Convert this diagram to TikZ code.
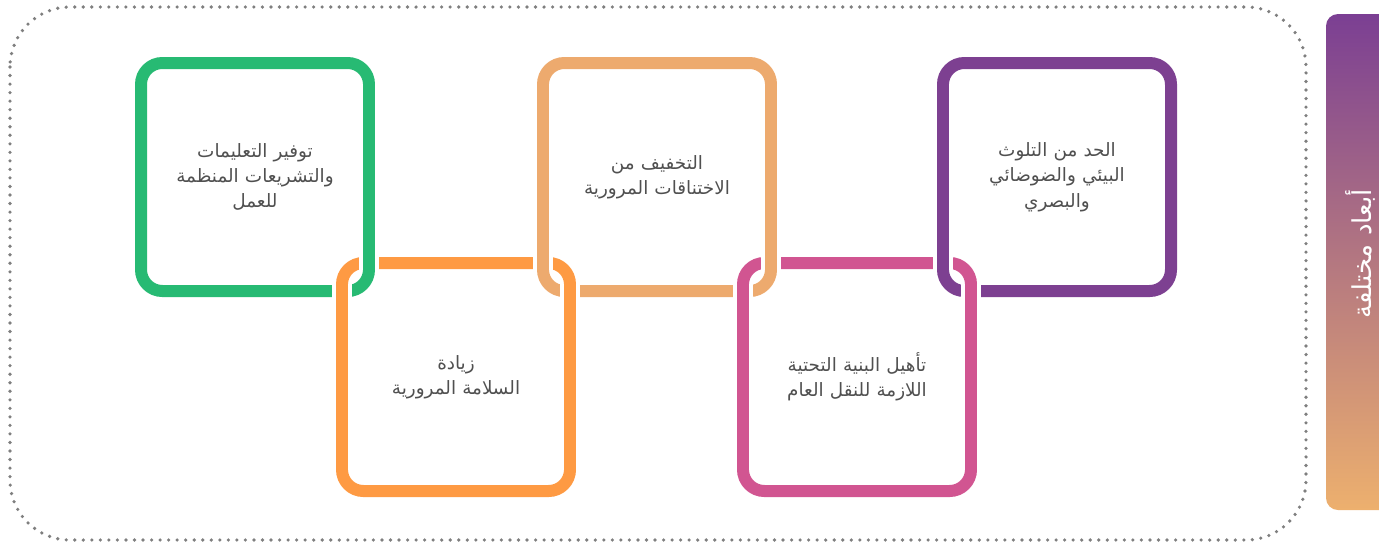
\documentclass[tikz,border=0pt]{standalone}
\usepackage{fontspec}
\usepackage{xcolor}
\usepackage{tikz}
\usetikzlibrary{calc}
\newfontfamily\arabicfont[Script=Arabic]{DejaVu Sans}
\TeXXeTstate=1

\definecolor{col1}{HTML}{27BA73}
\definecolor{col2}{HTML}{FE9A43}
\definecolor{col3}{HTML}{EDAA6E}
\definecolor{col4}{HTML}{D15591}
\definecolor{col5}{HTML}{7D4091}
\definecolor{bartop}{HTML}{7B3F93}
\definecolor{barmid}{HTML}{D4508E}
\definecolor{barbot}{HTML}{EDB06E}
\definecolor{textgray}{HTML}{505050}
\definecolor{dotgray}{HTML}{7F7F7F}

\newcommand{\arline}[1]{\beginR #1\endR}

\begin{document}
\begin{tikzpicture}[
    x=0.75pt, y=-0.75pt,
    box/.style={draw, rectangle, rounded corners=16pt, line width=9pt, minimum width=171pt, minimum height=171pt, outer sep=0pt, inner sep=0pt, align=center, text width=150pt, text=textgray, font=\arabicfont\fontsize{13.8}{19}\selectfont},
    over/.style={line width=9pt, preaction={draw=white, line width=15pt}},
    frame/.style={draw=dotgray, line width=2.7pt, line cap=round, dash pattern=on 0pt off 6.4pt, rounded corners=45pt}
]
\useasboundingbox (0,0) rectangle (1379,544);

% Frame
\draw[frame] (10,7) rectangle (1306,540);

% Side bar
\begin{scope}
\clip (0,0) rectangle (1379,544);
\shade[top color=bartop, middle color=barmid, bottom color=barbot, rounded corners=9pt] (1326,14) rectangle (1400,510);
\end{scope}
\node[rotate=90, text=white, font=\arabicfont\fontsize{19.5}{22}\selectfont] (bartitle) at (1360,254) {\arline{أبعاد مختلفة}};

% Nodes
\node[box, draw=col1] (b1) at (255,177) {\arline{توفير التعليمات}\\ \arline{والتشريعات المنظمة}\\ \arline{للعمل}};
\node[box, draw=col2] (b2) at (456,377) {\arline{زيادة}\\ \arline{السلامة المرورية}};
\node[box, draw=col3] (b3) at (657,177) {\arline{التخفيف من}\\ \arline{الاختناقات المرورية}};
\node[box, draw=col4] (b4) at (857,377) {\arline{تأهيل البنية التحتية}\\ \arline{اللازمة للنقل العام}};
\node[box, draw=col5] (b5) at (1057,177) {\arline{الحد من التلوث}\\ \arline{البيئي والضوضائي}\\ \arline{والبصري}};

% Links
\foreach \i [evaluate=\i as \j using int(\i+1)] in {1,...,4} {
  \draw[over, draw=col\i] ($(b\i.north east)+(0,21)$) -- ($(b\i.south east)-(0,21)$);
  \draw[over, draw=col\j] ($(b\j.north west)+(0,21)$) -- ($(b\j.south west)-(0,21)$);
}

\end{tikzpicture}
\end{document}
